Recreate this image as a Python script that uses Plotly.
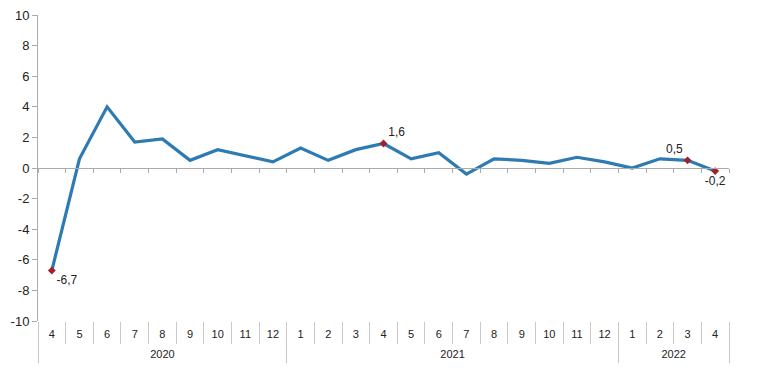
import plotly.graph_objects as go

years = ["2020"] * 9 + ["2021"] * 12 + ["2022"] * 4
months = ["4", "5", "6", "7", "8", "9", "10", "11", "12",
          "1", "2", "3", "4", "5", "6", "7", "8", "9", "10", "11", "12",
          "1", "2", "3", "4"]
values = [-6.7, 0.6, 4.0, 1.7, 1.9, 0.5, 1.2, 0.8, 0.4,
          1.3, 0.5, 1.2, 1.6, 0.6, 1.0, -0.4, 0.6, 0.5, 0.3, 0.7, 0.4,
          0.0, 0.6, 0.5, -0.2]
y_ticks = [-10, -8, -6, -4, -2, 0, 2, 4, 6, 8, 10]
label_idx = [0, 12, 23, 24]
label_pos = ["bottom right", "top right", "top left", "bottom center"]

line_color = "#2E7AB3"
mark_color = "#A3202A"
axis_grey = "#AAAAAA"
font_fam = "Liberation Sans, Arial, sans-serif"

n = len(values)
idx = list(range(n))
xr = [-0.5, n - 0.5]
boundaries = [i - 0.5 for i in range(n + 1)]
year_names = []
for y in years:
    if y not in year_names:
        year_names.append(y)
year_centers = [sum(i for i in idx if years[i] == y) / years.count(y) for y in year_names]
year_bounds = [-0.5] + [i - 0.5 for i in range(1, n) if years[i] != years[i - 1]] + [n - 0.5]

fig = go.Figure()
fig.add_trace(go.Scatter(
    x=idx, y=values, mode="lines",
    line=dict(color=line_color, width=3.2), hoverinfo="skip", showlegend=False))
fig.add_trace(go.Scatter(
    x=label_idx, y=[values[i] for i in label_idx], mode="markers+text",
    marker=dict(color=mark_color, size=6, symbol="diamond"),
    text=[f"{values[i]:.1f}".replace(".", ",") for i in label_idx],
    textposition=label_pos,
    textfont=dict(family=font_fam, size=12, color="#222"),
    hoverinfo="skip", showlegend=False))
# invisible traces so every helper axis is drawn
for ax in ["x2", "x3", "x4", "x5"]:
    fig.add_trace(go.Scatter(
        x=idx, y=values, xaxis=ax, mode="lines",
        line=dict(width=0), opacity=0, hoverinfo="skip", showlegend=False))

common = dict(range=xr, showgrid=False, zeroline=False, automargin=False,
              overlaying="x", tickmode="array")

fig.update_layout(
    width=756, height=371,
    margin=dict(l=30, r=35, t=7, b=58, autoexpand=False),
    paper_bgcolor="white", plot_bgcolor="white",
    font=dict(family=font_fam, color="#222"),
    # month labels
    xaxis=dict(
        range=xr, tickmode="array", tickvals=idx, ticktext=months,
        showgrid=False, zeroline=False, showline=False, automargin=False,
        ticks="", ticklabelstandoff=5,
        tickfont=dict(size=11, color="#222"),
    ),
    # zero line with boundary ticks
    xaxis2=dict(
        **common, anchor="free", position=0.5,
        tickvals=boundaries, ticks="outside", ticklen=4, tickcolor=axis_grey,
        showticklabels=False, showline=True, linecolor=axis_grey, linewidth=1,
    ),
    # month separators
    xaxis3=dict(
        **common, anchor="y", tickvals=boundaries, ticks="outside", ticklen=22,
        tickcolor="#C8C8C8", showticklabels=False, showline=False,
    ),
    # year labels
    xaxis4=dict(
        **common, anchor="y", tickvals=year_centers, ticktext=year_names,
        ticks="", ticklabelstandoff=25, showline=False,
        tickfont=dict(size=11, color="#222"),
    ),
    # year separators
    xaxis5=dict(
        **common, anchor="y", tickvals=year_bounds, ticks="outside", ticklen=41,
        tickcolor="#C8C8C8", showticklabels=False, showline=False,
    ),
    yaxis=dict(
        range=[-10, 10], tickmode="array", tickvals=y_ticks,
        ticktext=[str(v) for v in y_ticks],
        showgrid=False, zeroline=False,
        automargin=False, ticklabeloverflow="allow",
        showline=True, linecolor=axis_grey, linewidth=1,
        ticks="outside", ticklen=5, tickcolor=axis_grey,
        tickfont=dict(size=13, color="#222"),
    ),
)

fig.write_html("out.html")
